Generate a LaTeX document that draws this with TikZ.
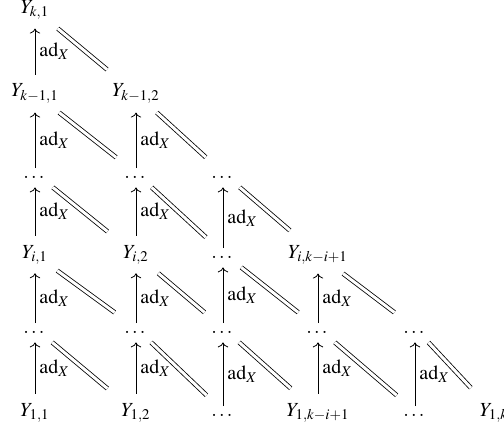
\documentclass[tikz,border=0pt]{standalone}
\usepackage{amsmath}
\usepackage{mathptmx}
\usepackage{tikz}
\usetikzlibrary{arrows.meta}

\begin{document}
\begin{tikzpicture}[
      x=0.5pt, y=-0.5pt,
      ynode/.style={anchor=base, inner sep=4.5pt},
      dnode/.style={anchor=base, inner sep=4.5pt, text height=5pt, text depth=0pt},
      upmap/.style={-{Computer Modern Rightarrow}},
      adlabel/.style={midway, anchor=west, inner sep=2pt},
      eqmap/.style={double, double distance=1.5pt}
    ]
      \useasboundingbox (0,0) rectangle (504,428);

      % rows from top to bottom
      \node[ynode] (n11) at (35,13) {$Y_{k,1}$};

      \node[ynode] (n21) at (35,97) {$Y_{k-1,1}$};
      \node[ynode] (n22) at (136,97) {$Y_{k-1,2}$};

      \node[dnode] (n31) at (35,178) {$\dots$};
      \node[dnode] (n32) at (136,178) {$\dots$};
      \node[dnode] (n33) at (223,178) {$\dots$};

      \node[ynode] (n41) at (35,258) {$Y_{i,1}$};
      \node[ynode] (n42) at (136,258) {$Y_{i,2}$};
      \node[dnode] (n43) at (223,258) {$\dots$};
      \node[ynode] (n44) at (318,258) {$Y_{i,k-i+1}$};

      \node[dnode] (n51) at (35,333) {$\dots$};
      \node[dnode] (n52) at (136,333) {$\dots$};
      \node[dnode] (n53) at (223,333) {$\dots$};
      \node[dnode] (n54) at (318,333) {$\dots$};
      \node[dnode] (n55) at (415,333) {$\dots$};

      \node[ynode] (n61) at (35,416) {$Y_{1,1}$};
      \node[ynode] (n62) at (136,416) {$Y_{1,2}$};
      \node[dnode] (n63) at (223,416) {$\dots$};
      \node[ynode] (n64) at (318,416) {$Y_{1,k-i+1}$};
      \node[dnode] (n65) at (415,416) {$\dots$};
      \node[ynode] (n66) at (494,416) {$Y_{1,k}$};

      % ad_X arrows
      \foreach \a/\b in {21/11, 41/31, 42/32, 61/51, 62/52, 64/54}
        \draw[upmap] (n\a) -- (n\b) node[adlabel] {$\mathrm{ad}_X$};
      \foreach \a/\b in {31/21, 32/22, 43/33, 51/41, 52/42, 53/43, 54/44, 63/53, 65/55}
        \draw[upmap] ([yshift=5pt]n\a.base) -- (n\b) node[adlabel] {$\mathrm{ad}_X$};

      % identifications
      \foreach \a/\b/\t in {11/22/4pt, 21/32/1pt, 22/33/1pt, 31/42/4pt, 32/43/1pt,
          33/44/4pt, 41/52/1pt, 42/53/1pt, 43/54/1pt, 44/55/1pt, 51/62/4pt,
          52/63/1pt, 53/64/4pt, 54/65/1pt, 55/66/4pt}
        \draw[eqmap, shorten >=\t] (n\a) -- (n\b);
    \end{tikzpicture}
\end{document}
